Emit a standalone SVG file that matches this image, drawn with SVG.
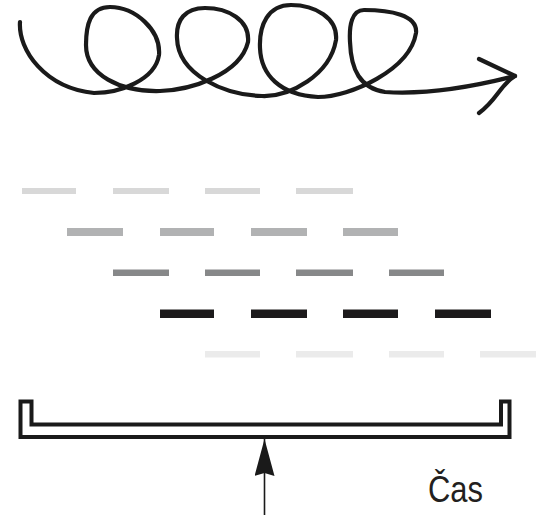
<svg xmlns="http://www.w3.org/2000/svg" width="547" height="515" viewBox="0 0 547 515">
  <style>
    .spiral { fill: none; stroke: #1a1a1a; stroke-width: 4.2; stroke-linecap: round; stroke-linejoin: round; }
    .d1 { fill: #d8d8d8; }
    .d2 { fill: #b1b2b3; }
    .d3 { fill: #878889; }
    .d4 { fill: #1c1a1b; }
    .d5 { fill: #ebebeb; }
    .bracket { fill: #ffffff; stroke: #1a1a1a; stroke-width: 4; stroke-linejoin: miter; }
    .label { font-family: "Liberation Sans", Arial, sans-serif; font-size: 36px; fill: #231f20; }
  </style>
  <defs>
    <marker id="ah" viewBox="0 0 38 20" refX="37" refY="10" markerWidth="38" markerHeight="20" markerUnits="userSpaceOnUse" orient="auto">
      <path d="M37,10 L0,0 L3,10 L0,20 Z" fill="#1a1a1a"/>
    </marker>
  </defs>

  <g id="spiral">
    <path class="spiral" d="M20,22 C18,50 45,88 94,93 C120,93 155,80 159,55 C161,30 135,7 110,7 C90,7 86,25 86,45 C86,75 120,92 160,91 C190,90 240,75 248,42 C250,20 228,8 205,8 C185,8 176,20 177,38 C178,75 225,95 262,96 C290,97 330,75 336,40 C338,18 315,5 291,5 C268,5 259,25 260,48 C261,75 280,95 318,97 C350,97 410,70 416,33 C418,15 390,10 364,10 C352,10 349,25 350,42 C351,70 360,88 385,92 C430,95 480,85 515,76"/>
    <path class="spiral" d="M479,59 L515,76 C500,85 497,100 479,113"/>
  </g>

  <g id="dashes">
    <g id="row1" class="d1">
      <rect x="22" y="188" width="54" height="6"/>
      <rect x="113" y="188" width="56" height="6"/>
      <rect x="205" y="188" width="55" height="6"/>
      <rect x="296" y="188" width="57" height="6"/>
    </g>
    <g id="row2" class="d2">
      <rect x="67" y="228" width="56" height="8"/>
      <rect x="160" y="228" width="54" height="8"/>
      <rect x="251" y="228" width="56" height="8"/>
      <rect x="343" y="228" width="55" height="8"/>
    </g>
    <g id="row3" class="d3">
      <rect x="113" y="269.5" width="56" height="6.5"/>
      <rect x="205" y="269.5" width="55" height="6.5"/>
      <rect x="296" y="269.5" width="57" height="6.5"/>
      <rect x="389" y="269.5" width="55" height="6.5"/>
    </g>
    <g id="row4" class="d4">
      <rect x="160" y="309.5" width="54" height="8.5"/>
      <rect x="251" y="309.5" width="56" height="8.5"/>
      <rect x="343" y="309.5" width="55" height="8.5"/>
      <rect x="435" y="309.5" width="56" height="8.5"/>
    </g>
    <g id="row5" class="d5">
      <rect x="205" y="351" width="55" height="6.5"/>
      <rect x="296" y="351" width="57" height="6.5"/>
      <rect x="389" y="351" width="55" height="6.5"/>
      <rect x="480" y="351" width="56" height="6.5"/>
    </g>
  </g>

  <g id="bracket">
    <path class="bracket" d="M20.5,401.5 L31.5,401.5 L31.5,424.5 L501,424.5 L501,401.5 L509.5,401.5 L509.5,437 L20.5,437 Z"/>
  </g>

  <g id="connectors">
    <line x1="264.5" y1="515" x2="264.5" y2="439" stroke="#1a1a1a" stroke-width="1.6" marker-end="url(#ah)"/>
  </g>

  <g id="label">
    <text class="label" x="428" y="502" textLength="55" lengthAdjust="spacingAndGlyphs">Čas</text>
  </g>
</svg>
